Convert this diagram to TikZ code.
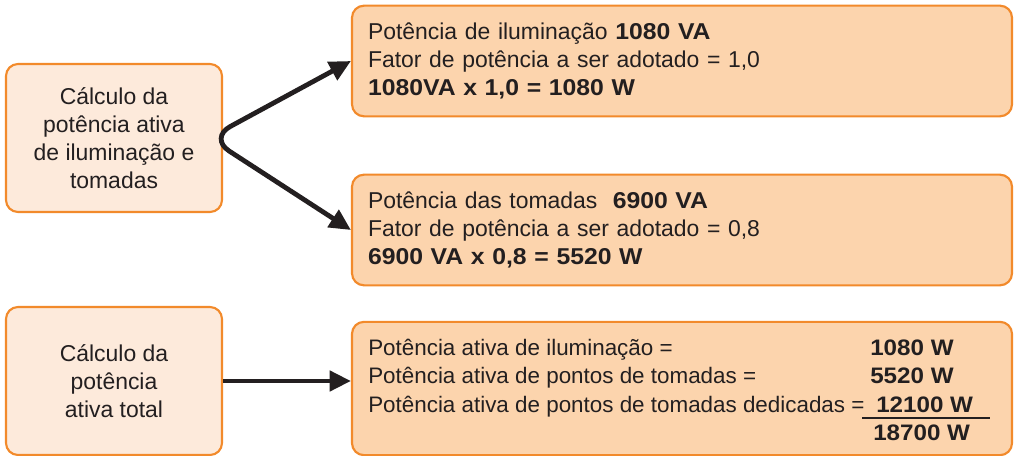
\documentclass[tikz,border=0pt]{standalone}
\usepackage{fontspec}
\setmainfont[BoldFeatures={FakeStretch=1.08}]{Liberation Sans}
\definecolor{edge}{HTML}{F28A2B}
\definecolor{pale}{HTML}{FDEADB}
\definecolor{peach}{HTML}{FCD4AD}
\definecolor{ink}{HTML}{231F20}
\usetikzlibrary{arrows.meta,calc}
\tikzset{
  >={Triangle[length=16pt,width=15pt]},
  box/.style={draw=edge,line width=1.6pt,rounded corners=9pt,inner sep=0pt,text=ink,font=\fontsize{17.2}{21}\selectfont},
  lbox/.style={box,fill=pale,minimum width=162pt,minimum height=111pt,align=center},
  hbox/.style={box,fill=peach,minimum width=495pt,text width=471pt,inner xsep=12pt,align=left},
  lab/.style={text=ink,font=\fontsize{16.8}{21}\selectfont,inner sep=0pt},
  val/.style={lab,font=\fontsize{16.8}{21}\selectfont\bfseries},
  arr/.style={draw=ink,line width=3.6pt},
}
\begin{document}
\begin{tikzpicture}[x=0.75pt,y=-0.75pt]
\useasboundingbox (0,0) rectangle (1014,456);
% Left boxes
\node[lbox] (calc1) at (114,138) {Cálculo da\\potência ativa\\de iluminação e\\tomadas};
\node[lbox] (calc2) at (114,381) {Cálculo da\\potência\\ativa total};
% Right boxes
\node[hbox,minimum height=83pt] (ilum) at (682,61) {Potência de iluminação \textbf{1080 VA}\\
Fator de potência a ser adotado = 1,0\\
\textbf{1080VA x 1,0 = 1080 W}};
\node[hbox,minimum height=83pt] (tom) at (682,230) {Potência das tomadas\ \ \textbf{6900 VA}\\
Fator de potência a ser adotado = 0,8\\
\textbf{6900 VA x 0,8 = 5520 W}};
\node[hbox,minimum height=100pt] (tot) at (682,388.5) {};
% Total lines
\node[lab,anchor=base west] (r1) at (368,355) {Potência ativa de iluminação =};
\node[lab,anchor=base west] (r2) at (368,383) {Potência ativa de pontos de tomadas =};
\node[lab,anchor=base west] (r3) at (368,412) {Potência ativa de pontos de tomadas dedicadas =};
\node[val,anchor=base west] (v1) at (870,355) {1080 W};
\node[val,anchor=base west] (v2) at (870,383) {5520 W};
\node[val,anchor=base west] (v3) at (876,412) {12100 W};
\node[val,anchor=base west] (v4) at (873,440) {18700 W};
\draw[ink,line width=0.8pt] (862,418) -- (990,418);
% Arrows
\draw[arr,<->,rounded corners=18pt] (ilum.west) -- ($(calc1.east)+(-14,0)$) -- (tom.west);
\draw[arr,->] (calc2.east) -- (calc2.east -| tot.west);
\end{tikzpicture}
\end{document}
